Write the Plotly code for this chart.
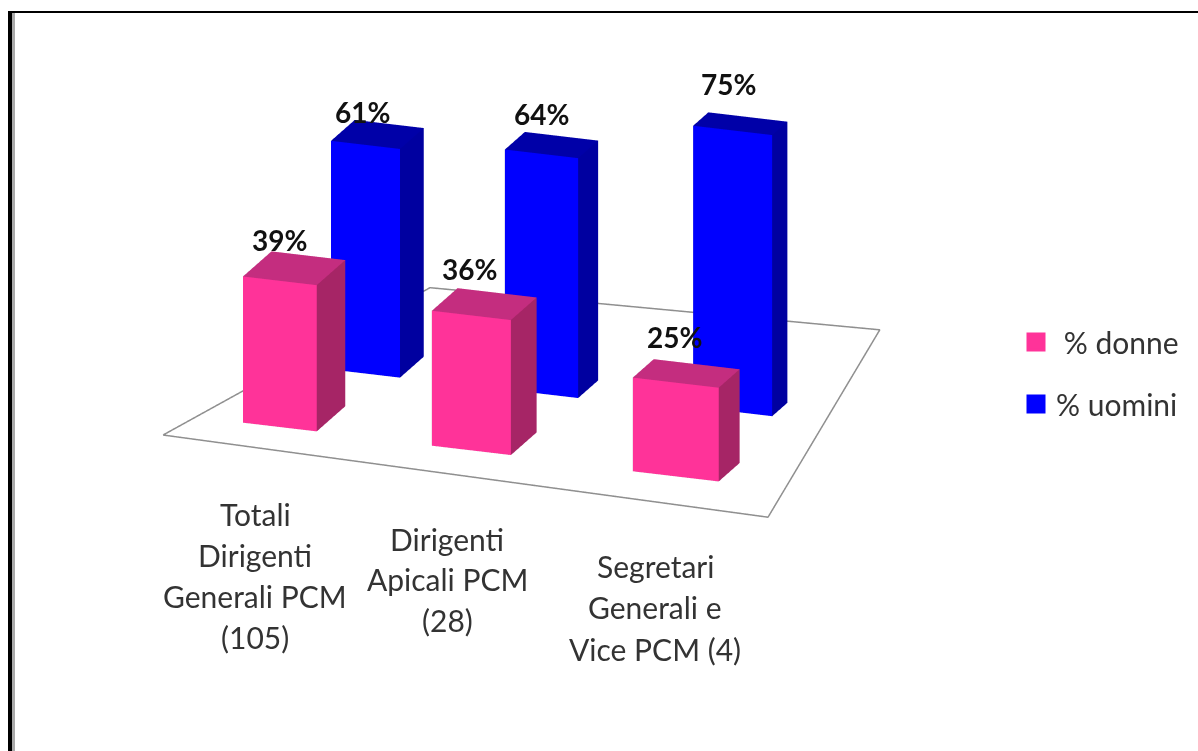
import numpy as np
import plotly.graph_objects as go

categories = [["Totali", "Dirigenti", "Generali PCM", "(105)"],
              ["Dirigenti", "Apicali PCM", "(28)"],
              ["Segretari", "Generali e", "Vice PCM (4)"]]
series_names = ["\u00a0% donne", "% uomini"]
donne = [39, 36, 25]
uomini = [61, 64, 75]

# positions and footprints on the floor, in floor units
donne_x = [0.1115, 0.4715, 0.8565]
donne_y = [0.172, 0.168, 0.158]
donne_w = [0.140, 0.150, 0.163]
donne_d = [0.150, 0.135, 0.110]
uomini_x = [0.1577, 0.4867, 0.835]
uomini_y = [0.507, 0.510, 0.535]
uomini_w = [0.131, 0.139, 0.150]
uomini_d = [0.125, 0.105, 0.080]
floor_x = [0.0012, 1.170, 1.001, 0.168]
floor_y = [0.0573, 0.0002, 1.057, 0.9995]

# where the value labels sit on the page
donne_lab = [(279, 241), (470, 270), (675, 338)]
uomini_lab = [(362, 113), (541, 115), (729, 85)]

W, H = 1198, 751
# orthographic view fitted to the picture
theta, phi = np.radians(20.1), np.radians(18.8)
S = H / 2      # px per aspect unit in the orthographic camera
D = 2.0
O = np.array([151.5, 444.5])
VX, VY = np.array([527.0, 62.0]), np.array([190.0, -167.0])
VZ = np.array([0.0, -3.75])
XR, YR, ZR = [-0.2, 1.4], [-0.1, 1.2], [0, 100]
asp = dict(x=(XR[1]-XR[0]) * 561/S, y=(YR[1]-YR[0]) * 553/S, z=(ZR[1]-ZR[0]) * 3.96/S)


def pix(u, v, z):
    return O + u*VX + v*VY + z*VZ


BC = pix(sum(XR)/2, sum(YR)/2, sum(ZR)/2)
eye_dir = np.array([np.sin(theta)*np.cos(phi), -np.cos(theta)*np.cos(phi), np.sin(phi)])
right = np.array([np.cos(theta), np.sin(theta), 0.0])
up = np.array([-np.sin(theta)*np.sin(phi), np.cos(theta)*np.sin(phi), np.cos(phi)])
L = (W/2 - BC[0])/S * right + (BC[1] - H/2)/S * up
E = L + D*eye_dir


def cuboid(x0, y0, w, d, h, front, top, side, name):
    xs = [x0, x0+w, x0+w, x0, x0, x0+w, x0+w, x0]
    ys = [y0, y0, y0+d, y0+d, y0, y0, y0+d, y0+d]
    zs = [0, 0, 0, 0, h, h, h, h]
    i = [0, 0, 4, 4, 1, 1, 0, 0, 3, 3, 0, 0]
    j = [1, 5, 5, 6, 2, 6, 3, 7, 2, 6, 1, 2]
    k = [5, 4, 6, 7, 6, 5, 7, 4, 6, 7, 2, 3]
    fc = [front, front, top, top, side, side, side, side, side, side, side, side]
    return go.Mesh3d(x=xs, y=ys, z=zs, i=i, j=j, k=k, facecolor=fc, flatshading=True,
                     lighting=dict(ambient=1, diffuse=0, specular=0, roughness=1, fresnel=0),
                     hoverinfo="skip", showscale=False, name=name, showlegend=False)


def value_label(x0, y0, w, d, h, target):
    ax, ay = x0 + w/2, y0 + d/2
    p = pix(ax, ay, h)
    return dict(x=ax, y=ay, z=h, text=f"{h}%", showarrow=False,
                xshift=float(target[0] - p[0]), yshift=float(p[1] - target[1] + 1),
                font=dict(family="Lato", size=28, color="#111111", weight="bold"))


PINK, BLUE = "#FF3399", "#0000FF"
fig = go.Figure()
fig.add_trace(go.Scatter3d(x=floor_x + floor_x[:1], y=floor_y + floor_y[:1], z=[0]*5, mode="lines",
                           line=dict(color="#8f8f8f", width=3), showlegend=False, hoverinfo="skip"))
annots = []
for n in range(3):
    fig.add_trace(cuboid(uomini_x[n], uomini_y[n], uomini_w[n], uomini_d[n], uomini[n], BLUE, "#0000A8", "#0000A0", series_names[1]))
    annots.append(value_label(uomini_x[n], uomini_y[n], uomini_w[n], uomini_d[n], uomini[n], uomini_lab[n]))
for n in range(3):
    fig.add_trace(cuboid(donne_x[n], donne_y[n], donne_w[n], donne_d[n], donne[n], PINK, "#C42D7F", "#A62566", series_names[0]))
    annots.append(value_label(donne_x[n], donne_y[n], donne_w[n], donne_d[n], donne[n], donne_lab[n]))

# legend proxies
for nm, col in zip(series_names, [PINK, BLUE]):
    fig.add_trace(go.Scatter(x=[None], y=[None], mode="markers", name=nm, legendgroup=nm,
                             marker=dict(symbol="square", size=16, color=col, line=dict(color=col, width=3))))

cat_x = [255, 447, 655]
cat_y = [[514, 555, 596, 637], [539, 579, 620], [566, 607, 649]]
ann = []
for cx, ys, lines in zip(cat_x, cat_y, categories):
    for yy, t in zip(ys, lines):
        ann.append(dict(xref="paper", yref="paper", x=cx/W, y=1-yy/H, text=t, showarrow=False,
                        xanchor="center", yanchor="middle", font=dict(family="Lato", size=30, color="#333333")))

shapes = [
    dict(type="rect", xref="paper", yref="paper", x0=8/W, x1=12/W, y0=0, y1=1-11/H, fillcolor="#000000", line_width=0),
    dict(type="rect", xref="paper", yref="paper", x0=12/W, x1=15/W, y0=0, y1=1-13/H, fillcolor="#aaaaaa", line_width=0),
    dict(type="rect", xref="paper", yref="paper", x0=8/W, x1=1, y0=1-13/H, y1=1-11/H, fillcolor="#000000", line_width=0),
]
hidden = dict(visible=False)
fig.update_layout(
    width=W, height=H, margin=dict(l=0, r=0, t=0, b=0), paper_bgcolor="white", plot_bgcolor="rgba(0,0,0,0)",
    xaxis=dict(visible=False), yaxis=dict(visible=False),
    annotations=ann, shapes=shapes,
    legend=dict(x=1016/W, y=1-316/H, xanchor="left", yanchor="top", bgcolor="rgba(0,0,0,0)",
                font=dict(family="Lato", size=30, color="#333333"), tracegroupgap=20, itemwidth=30),
    scene=dict(
        domain=dict(x=[0, 1], y=[0, 1]),
        xaxis=dict(range=XR, **hidden), yaxis=dict(range=YR, **hidden), zaxis=dict(range=ZR, **hidden),
        aspectmode="manual", aspectratio=asp,
        camera=dict(eye=dict(x=E[0], y=E[1], z=E[2]), center=dict(x=L[0], y=L[1], z=L[2]), up=dict(x=0, y=0, z=1),
                    projection=dict(type="orthographic")),
        annotations=annots,
    ),
)
fig.write_html("out.html", post_script="document.body.style.margin='0';", config=dict(displayModeBar=False))
